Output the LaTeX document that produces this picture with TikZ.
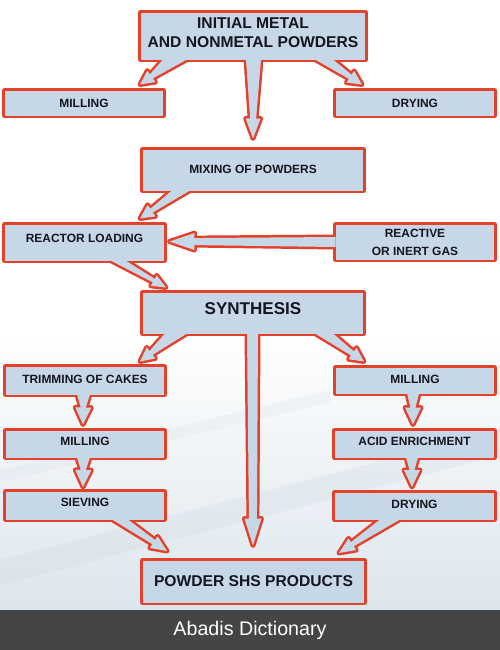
\documentclass[tikz,border=0pt]{standalone}
\usepackage{fontspec}
\setmainfont{Liberation Sans}
\usetikzlibrary{calc}
\definecolor{boxfill}{HTML}{C6D8E7}
\definecolor{boxred}{HTML}{E4412B}
\definecolor{txtc}{HTML}{15151F}
\definecolor{barc}{HTML}{454545}
\definecolor{wash}{HTML}{DDE6ED}
\definecolor{wash2}{HTML}{CFDAE3}
\pgfdeclarelayer{bgl}\pgfdeclarelayer{outl}\pgfdeclarelayer{filll}
\pgfsetlayers{bgl,outl,filll,main}
% #1 name, #2 base1, #3 base2, #4 tip, #5 head length, #6 wing half width, #7 neck half width
\newcommand\mkconn[7]{%
  \coordinate (#1-b1) at #2;
  \coordinate (#1-b2) at #3;
  \coordinate (#1-t) at #4;
  \coordinate (#1-m) at ($(#1-b1)!0.5!(#1-b2)$);
  \coordinate (#1-h) at ($(#1-t)!#5!(#1-m)$);
  \coordinate (#1-p) at ($(#1-m)!(#1-b1)!(#1-t)$);
  \coordinate (#1-q1) at ($(#1-h)+(#1-b1)-(#1-p)$);
  \coordinate (#1-q2) at ($(#1-h)-(#1-b1)+(#1-p)$);
  \coordinate (#1-n1) at ($(#1-h)!#7!(#1-q1)$);
  \coordinate (#1-n2) at ($(#1-h)!#7!(#1-q2)$);
  \coordinate (#1-w1) at ($(#1-h)!#6!(#1-q1)$);
  \coordinate (#1-w2) at ($(#1-h)!#6!(#1-q2)$);
}
\newcommand\drawconn[2]{\path[#2] (#1-b1) -- (#1-n1) -- (#1-w1) -- (#1-t) -- (#1-w2) -- (#1-n2) -- (#1-b2) -- cycle;}
\newcommand\drawbox[2]{\path[#2] (#1.north west) rectangle (#1.south east);}
\newcommand\allshapes[1]{%
  \drawbox{init}{#1}\drawbox{millA}{#1}\drawbox{dryA}{#1}\drawbox{mix}{#1}
  \drawbox{load}{#1}\drawbox{gas}{#1}\drawbox{syn}{#1}\drawbox{trim}{#1}
  \drawbox{millC}{#1}\drawbox{millB}{#1}\drawbox{acid}{#1}\drawbox{sieve}{#1}
  \drawbox{dryB}{#1}\drawbox{prod}{#1}
  \drawconn{c1}{#1}\drawconn{c2}{#1}\drawconn{c3}{#1}\drawconn{c4}{#1}
  \drawconn{c5}{#1}\drawconn{c6}{#1}\drawconn{c7}{#1}\drawconn{c8}{#1}
  \drawconn{c9}{#1}\drawconn{c10}{#1}\drawconn{c11}{#1}\drawconn{c12}{#1}
  \drawconn{c13}{#1}\drawconn{c14}{#1}\drawconn{c15}{#1}}
\tikzset{
  box/.style={inner sep=0pt, outer sep=0pt, draw=none},
  lbl/.style={text=txtc, inner sep=0pt, align=center, font=\bfseries\fontsize{6.8}{10.2}\selectfont},
  biglbl/.style={text=txtc, inner sep=0pt, align=center, font=\bfseries\fontsize{8.9}{10.8}\selectfont},
  outlinepass/.style={draw=boxred, line width=2.83pt, line join=round},
  fillpass/.style={fill=boxfill}
}
\begin{document}
\begin{tikzpicture}[x=0.02cm,y=-0.02cm]
\useasboundingbox (0,0) rectangle (500,650);
\begin{pgfonlayer}{bgl}
  \fill[white] (0,0) rectangle (500,650);
  \shade[top color=white, bottom color=wash] (0,330) rectangle (500,610);
  \fill[wash2, opacity=0.3] (0,560) -- (500,430) -- (500,455) -- (0,585) -- cycle;
  \fill[wash2, opacity=0.2] (0,470) -- (330,390) -- (330,402) -- (0,482) -- cycle;
  \fill[barc] (0,610) rectangle (500,650);
\end{pgfonlayer}
% boxes
\node[box, minimum width=4.5cm,  minimum height=0.94cm] (init)  at (253,36) {};
\node[box, minimum width=3.18cm, minimum height=0.5cm]  (millA) at (84,103) {};
\node[box, minimum width=3.18cm, minimum height=0.5cm]  (dryA)  at (415,103) {};
\node[box, minimum width=4.42cm, minimum height=0.82cm] (mix)   at (253,170) {};
\node[box, minimum width=3.2cm,  minimum height=0.72cm] (load)  at (84.5,242.5) {};
\node[box, minimum width=3.18cm, minimum height=0.7cm]  (gas)   at (415,242) {};
\node[box, minimum width=4.42cm, minimum height=0.82cm] (syn)   at (253,313) {};
\node[box, minimum width=3.18cm, minimum height=0.56cm] (trim)  at (85,380.5) {};
\node[box, minimum width=3.18cm, minimum height=0.52cm] (millC) at (415,380.5) {};
\node[box, minimum width=3.18cm, minimum height=0.54cm] (millB) at (85,444) {};
\node[box, minimum width=3.2cm,  minimum height=0.54cm] (acid)  at (414.5,444) {};
\node[box, minimum width=3.18cm, minimum height=0.56cm] (sieve) at (85,505.5) {};
\node[box, minimum width=3.2cm,  minimum height=0.54cm] (dryB)  at (414.5,506) {};
\node[box, minimum width=4.44cm, minimum height=0.84cm] (prod)  at (253.5,581.5) {};
% labels
\node[biglbl] (initT) at (253,32.5) {INITIAL METAL\\AND NONMETAL POWDERS};
\node[lbl] (millAT) at (84,103) {MILLING};
\node[lbl] (dryAT) at (415,103) {DRYING};
\node[lbl] (mixT) at (253,169) {MIXING OF POWDERS};
\node[lbl] (loadT) at (84.5,238.5) {REACTOR LOADING};
\node[lbl] (gasT) at (415,242) {REACTIVE\\OR INERT GAS};
\node[text=txtc, inner sep=0pt, font=\bfseries\fontsize{9.7}{11}\selectfont] (synT) at (253,309) {SYNTHESIS};
\node[lbl] (trimT) at (85,379) {TRIMMING OF CAKES};
\node[lbl] (millCT) at (415,379) {MILLING};
\node[lbl] (millBT) at (85,441) {MILLING};
\node[lbl] (acidT) at (414.5,441) {ACID ENRICHMENT};
\node[lbl] (sieveT) at (85,502) {SIEVING};
\node[lbl] (dryBT) at (414.5,504) {DRYING};
\node[biglbl] (prodT) at (253.5,581) {POWDER SHS PRODUCTS};
\node[text=white, inner sep=0pt, font=\fontsize{11.2}{13}\selectfont] (bar) at (250,630) {Abadis Dictionary};
% connectors
\mkconn{c1}{($(init.south)+(-90,0)$)}{($(init.south)+(-66,0)$)}{($(millA.north)+(56,-6)$)}{0.28cm}{0.14cm}{0.05cm}
\mkconn{c2}{($(init.south)+(62,0)$)}{($(init.south)+(80,0)$)}{($(dryA.north)+(-53,-6)$)}{0.28cm}{0.14cm}{0.05cm}
\mkconn{c3}{($(init.south)+(-7,0)$)}{($(init.south)+(8,0)$)}{($(mix.north)+(0,-11)$)}{0.4cm}{0.15cm}{0.06cm}
\mkconn{c4}{($(mix.south)+(-81,0)$)}{($(mix.south)+(-63,0)$)}{($(load.north)+(55.5,-6)$)}{0.28cm}{0.14cm}{0.045cm}
\mkconn{c5}{($(gas.west)+(0,-5)$)}{($(gas.west)+(0,5)$)}{($(load.east)+(5,-1)$)}{0.5cm}{0.17cm}{0.07cm}
\mkconn{c6}{($(load.south)+(26,0)$)}{($(load.south)+(41,0)$)}{($(syn.north)+(-87,-5)$)}{0.28cm}{0.12cm}{0.04cm}
\mkconn{c7}{($(syn.south)+(-88,0)$)}{($(syn.south)+(-66,0)$)}{($(trim.north)+(55,-5)$)}{0.28cm}{0.14cm}{0.05cm}
\mkconn{c8}{($(syn.south)+(62,0)$)}{($(syn.south)+(80,0)$)}{($(millC.north)+(-51,-6)$)}{0.28cm}{0.14cm}{0.05cm}
\mkconn{c9}{($(syn.south)+(-6,0)$)}{($(syn.south)+(5,0)$)}{($(prod.north)+(-0.5,-15)$)}{0.54cm}{0.17cm}{0.08cm}
\mkconn{c10}{($(trim.south)+(-8,0)$)}{($(trim.south)+(5,0)$)}{($(millB.north)+(-2,-6)$)}{0.34cm}{0.16cm}{0.05cm}
\mkconn{c11}{($(millC.south)+(-8,0)$)}{($(millC.south)+(4,0)$)}{($(acid.north)+(-1.5,-6)$)}{0.34cm}{0.16cm}{0.05cm}
\mkconn{c12}{($(millB.south)+(-8,0)$)}{($(millB.south)+(5,0)$)}{($(sieve.north)+(-2,-4.5)$)}{0.34cm}{0.16cm}{0.05cm}
\mkconn{c13}{($(acid.south)+(-8.5,0)$)}{($(acid.south)+(3.5,0)$)}{($(dryB.north)+(-2.5,-5.5)$)}{0.34cm}{0.16cm}{0.05cm}
\mkconn{c14}{($(sieve.south)+(27,0)$)}{($(sieve.south)+(43,0)$)}{($(prod.north)+(-86.5,-9.5)$)}{0.32cm}{0.14cm}{0.05cm}
\mkconn{c15}{($(dryB.south)+(-34.5,0)$)}{($(dryB.south)+(-14.5,0)$)}{($(prod.north)+(85.5,-7.5)$)}{0.32cm}{0.14cm}{0.05cm}
\begin{pgfonlayer}{outl}
  \allshapes{outlinepass}
\end{pgfonlayer}
\begin{pgfonlayer}{filll}
  \allshapes{fillpass}
\end{pgfonlayer}
\end{tikzpicture}
\end{document}
